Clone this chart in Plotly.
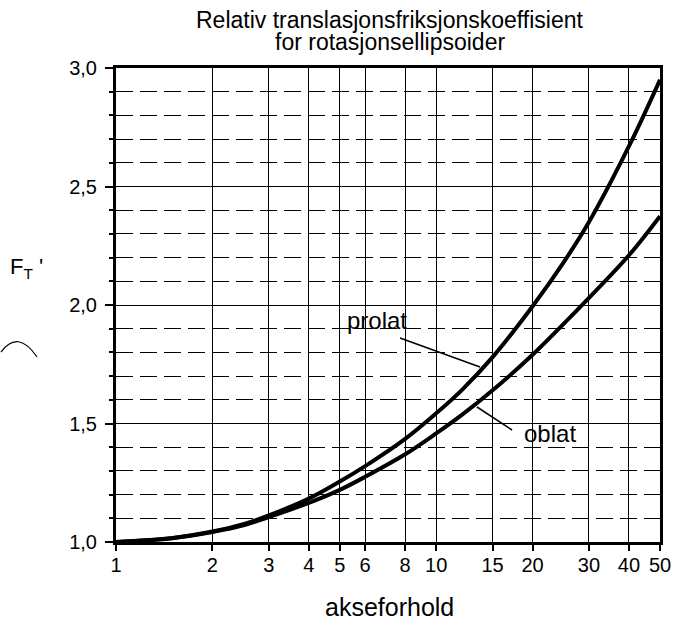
import plotly.graph_objects as go

# Axis ratio (akseforhold) values and read-off friction coefficients
ratio = [1, 1.5, 2, 2.5, 3, 4, 5, 6, 8, 10, 12, 15, 20, 25, 30, 40, 50]
prolat = [1.0, 1.017, 1.044, 1.075, 1.112, 1.183, 1.255, 1.32, 1.435, 1.543, 1.64, 1.78, 1.995, 2.18, 2.35, 2.67, 2.95]
oblat = [1.0, 1.016, 1.042, 1.07, 1.105, 1.165, 1.22, 1.275, 1.37, 1.458, 1.535, 1.64, 1.79, 1.92, 2.03, 2.21, 2.375]

x_ticks = [1, 2, 3, 4, 5, 6, 8, 10, 15, 20, 30, 40, 50]
y_ticks = [1.0, 1.5, 2.0, 2.5, 3.0]
y_ticktext = ["1,0", "1,5", "2,0", "2,5", "3,0"]

FONT = "Liberation Sans, Arial, sans-serif"

# plot area in page pixels: x 116..660, y 68..542 (body margin removed)
W, H = 677, 621
PL, PR, PT, PB = 116, 660, 68, 542


def px(xi):
    return (xi - PL) / (PR - PL)


def py(yi):
    return (PB - yi) / (PB - PT)


fig = go.Figure()
fig.add_trace(go.Scatter(x=ratio, y=prolat, mode="lines", line=dict(color="black", width=4, shape="spline"),
                         name="prolat", showlegend=False))
fig.add_trace(go.Scatter(x=ratio, y=oblat, mode="lines", line=dict(color="black", width=4, shape="spline"),
                         name="oblat", showlegend=False))

fig.update_layout(
    width=W, height=H,
    margin=dict(l=PL, r=W - PR, t=PT, b=H - PB, autoexpand=False),
    paper_bgcolor="white", plot_bgcolor="white",
    font=dict(family=FONT, color="black"),
    showlegend=False,
)

fig.update_xaxes(
    type="log", range=[0, 1.69897], automargin=False,
    tickvals=x_ticks, ticktext=[str(v) for v in x_ticks],
    tickfont=dict(size=20, family=FONT, color="black"),
    ticks="outside", ticklen=6, tickwidth=1.5, tickcolor="black",
    ticklabelstandoff=-3,
    showgrid=True, gridcolor="black", gridwidth=1,
    showline=True, linecolor="black", linewidth=3, mirror=True,
    zeroline=False,
)

fig.update_yaxes(
    range=[1, 3], automargin=False,
    tickvals=y_ticks, ticktext=y_ticktext,
    tickfont=dict(size=20, family=FONT, color="black"),
    ticks="outside", ticklen=8, tickwidth=1.5, tickcolor="black",
    ticklabelstandoff=4,
    showgrid=True, gridcolor="black", gridwidth=1.2,
    showline=True, linecolor="black", linewidth=3, mirror=True,
    zeroline=False,
    minor=dict(dtick=0.1, showgrid=True, gridcolor="black", gridwidth=1.2,
               griddash="17px,7px", ticks="outside", ticklen=4, tickcolor="black"),
)


def label(text, x, y, size, xanchor="center"):
    fig.add_annotation(x=px(x), y=py(y), xref="paper", yref="paper", text=text, showarrow=False,
                       xanchor=xanchor, yanchor="middle",
                       font=dict(size=size, family=FONT, color="black"))


# Title (two lines)
label("Relativ translasjonsfriksjonskoeffisient", 390, 20, 23)
label("for rotasjonsellipsoider", 390, 42, 23)

# X-axis title
label("akseforhold", 389, 607, 25)

# Y-axis title F_T '
label("F<sub>T</sub> '", 8, 268, 22, xanchor="left")

# Curve labels with leader lines
label("prolat", 377, 320, 24)
label("oblat", 550, 433, 24)
fig.add_shape(type="line", xref="paper", yref="paper", x0=px(400), y0=py(338), x1=px(480), y1=py(367),
              line=dict(color="black", width=1.5))
fig.add_shape(type="line", xref="paper", yref="paper", x0=px(477), y0=py(407), x1=px(512), y1=py(430),
              line=dict(color="black", width=1.5))

# Scan artifact arc at left
fig.add_shape(type="path", xref="paper", yref="paper",
              path="M {:.4f} {:.4f} Q {:.4f} {:.4f} {:.4f} {:.4f}".format(
                  px(1), py(352), px(18), py(329), px(37), py(357)),
              line=dict(color="black", width=1.2))

fig.write_html("out.html", config={"displayModeBar": False},
               post_script="document.body.style.margin='0';document.body.style.overflow='hidden';")
